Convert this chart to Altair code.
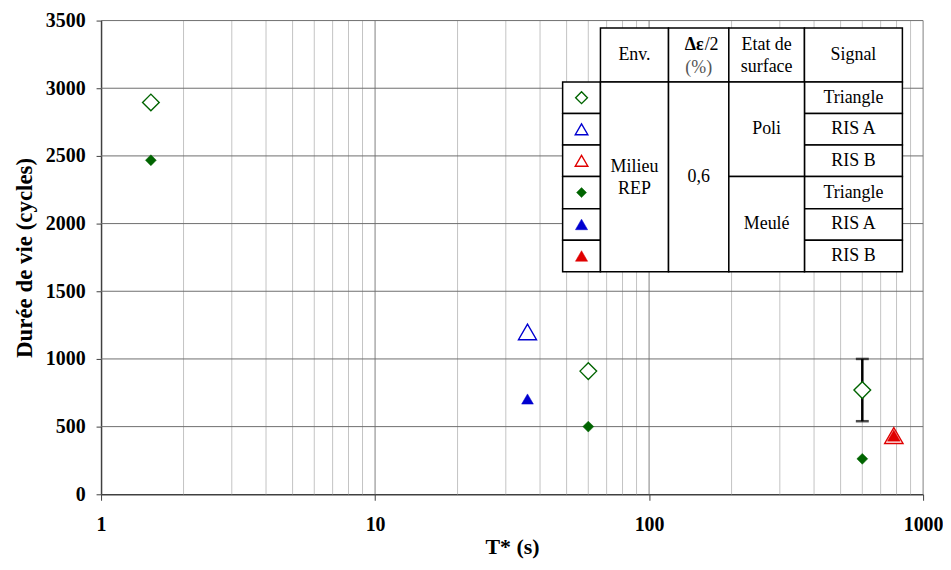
import altair as alt
import pandas as pd

# ---------------- data ----------------
poli_triangle_T = [1.52, 60, 600]
poli_triangle_N = [2895, 910, 770]
poli_risA_T = [36]
poli_risA_N = [1200]
poli_risB_T = [782]
poli_risB_N = [434]
meule_triangle_T = [1.52, 60, 600]
meule_triangle_N = [2468, 500, 262]
meule_risA_T = [36]
meule_risA_N = [704]
meule_risB_T = [782]
meule_risB_N = [434]

errbar_T = [600]
errbar_low = [540]
errbar_high = [1000]

x_tick_values = [1, 10, 100, 1000]
x_major_grid = [10, 100, 1000]
x_minor_grid = [2, 3, 4, 5, 6, 7, 8, 9, 20, 30, 40, 50, 60, 70, 80, 90,
                200, 300, 400, 500, 600, 700, 800, 900]
y_tick_values = [0, 500, 1000, 1500, 2000, 2500, 3000, 3500]

table_env = ["Milieu", "REP"]
table_amp = ["0,6"]
table_surface = ["Poli", "Meulé"]
table_signal = ["Triangle", "RIS A", "RIS B", "Triangle", "RIS A", "RIS B"]

# ---------------- layout / style ----------------
W, H = 826, 476
OX, OY = 101.5, 19.3          # plot-area origin in page pixels
GREEN, BLUE, RED = "#006400", "#0000D0", "#E00000"
SERIF = "Liberation Serif"

xs = alt.Scale(type="log", domain=[1, 1000], nice=False)
ys = alt.Scale(domain=[0, 3500], nice=False, zero=False)

x_axis = alt.Axis(values=x_tick_values, format="d", grid=False, tickSize=6,
                  tickColor="#404040", domainColor="#404040", domainWidth=1.5,
                  labelFont=SERIF, labelFontWeight="bold", labelFontSize=20,
                  labelColor="black", labelPadding=14, labelFlush=False,
                  labelOverlap=False, title="T* (s)", titleFont=SERIF,
                  titleFontWeight="bold", titleFontSize=22, titleColor="black",
                  titlePadding=3)
y_axis = alt.Axis(values=y_tick_values, format="d", grid=False, tickSize=5,
                  tickColor="#404040", domainColor="#404040", domainWidth=1.5,
                  labelFont=SERIF, labelFontWeight="bold", labelFontSize=20,
                  labelColor="black", labelPadding=11, labelFlush=False,
                  title="Durée de vie (cycles)", titleFont=SERIF,
                  titleFontWeight="bold", titleFontSize=23, titleColor="black",
                  titlePadding=9)

def X(field="T"):
    return alt.X(f"{field}:Q", scale=xs, axis=x_axis)

def Y(field="N"):
    return alt.Y(f"{field}:Q", scale=ys, axis=y_axis)

layers = []

# grid
layers.append(alt.Chart(pd.DataFrame({"T": x_minor_grid})).mark_rule(
    color="#c4c4c4", strokeWidth=1).encode(x=X()))
layers.append(alt.Chart(pd.DataFrame({"T": x_major_grid})).mark_rule(
    color="#808080", strokeWidth=1).encode(x=X()))
layers.append(alt.Chart(pd.DataFrame({"N": y_tick_values[1:]})).mark_rule(
    color="#6e6e6e", strokeWidth=1).encode(y=Y()))

# ---------------- legend table (pixel layout) ----------------
cx = [v - OX for v in [565.3, 603.3, 671.7, 732.3, 808.3, 906.7]]
ry = [v - OY for v in [26.7, 81, 112.7, 144.3, 176, 208.3, 240, 271.7]]
cells = []
for i in range(1, 5):
    cells.append((cx[i], cx[i + 1], ry[0], ry[1]))
for i in range(6):
    cells.append((cx[0], cx[1], ry[i + 1], ry[i + 2]))
    cells.append((cx[4], cx[5], ry[i + 1], ry[i + 2]))
cells.append((cx[1], cx[2], ry[1], ry[7]))
cells.append((cx[2], cx[3], ry[1], ry[7]))
cells.append((cx[3], cx[4], ry[1], ry[4]))
cells.append((cx[3], cx[4], ry[4], ry[7]))
cells_df = pd.DataFrame(cells, columns=["x0", "x1", "y0", "y1"])

def PX(f):
    return alt.X(f"{f}:Q", scale=None, axis=None)

def PY(f):
    return alt.Y(f"{f}:Q", scale=None, axis=None)

layers.append(alt.Chart(cells_df).mark_rect(
    fill="white", stroke="black", strokeWidth=1.5).encode(
    x=PX("x0"), x2="x1:Q", y=PY("y0"), y2="y1:Q"))

def mid(a, b):
    return (a + b) / 2

texts = [
    ("Env.", mid(cx[1], cx[2]), mid(ry[0], ry[1])),
    ("Etat de", mid(cx[3], cx[4]), 43.5 - OY),
    ("surface", mid(cx[3], cx[4]), 66 - OY),
    ("Signal", mid(cx[4], cx[5]), mid(ry[0], ry[1])),
    (table_env[0], mid(cx[1], cx[2]), 166 - OY),
    (table_env[1], mid(cx[1], cx[2]), 188.5 - OY),
    (table_amp[0], mid(cx[2], cx[3]), 176.5 - OY),
    (table_surface[0], mid(cx[3], cx[4]), 128.5 - OY),
    (table_surface[1], mid(cx[3], cx[4]), 224 - OY),
]
for i, s in enumerate(table_signal):
    texts.append((s, mid(cx[4], cx[5]), mid(ry[i + 1], ry[i + 2])))
texts_df = pd.DataFrame(texts, columns=["label", "px", "py"])
layers.append(alt.Chart(texts_df).mark_text(
    font=SERIF, fontSize=18, color="black", align="center", baseline="middle").encode(
    x=PX("px"), y=PY("py"), text="label:N"))

# header Δε/2 (%)
layers.append(alt.Chart(pd.DataFrame({"label": ["Δε"], "px": [707 - OX], "py": [43.5 - OY]})).mark_text(
    font=SERIF, fontSize=18, fontWeight="bold", color="black", align="right",
    baseline="middle").encode(x=PX("px"), y=PY("py"), text="label:N"))
layers.append(alt.Chart(pd.DataFrame({"label": ["/2"], "px": [708 - OX], "py": [43.5 - OY]})).mark_text(
    font=SERIF, fontSize=18, color="black", align="left",
    baseline="middle").encode(x=PX("px"), y=PY("py"), text="label:N"))
layers.append(alt.Chart(pd.DataFrame({"label": ["(%)"], "px": [mid(cx[2], cx[3])], "py": [66.5 - OY]})).mark_text(
    font=SERIF, fontSize=18, color="#555555", align="center",
    baseline="middle").encode(x=PX("px"), y=PY("py"), text="label:N"))

# ---------------- error bar ----------------
err_df = pd.DataFrame({"T": errbar_T, "lo": errbar_low, "hi": errbar_high})
layers.append(alt.Chart(err_df).mark_rule(color="black", strokeWidth=2.5).encode(
    x=X(), y=Y("lo"), y2="hi:Q"))
for f in ["lo", "hi"]:
    layers.append(alt.Chart(err_df).mark_tick(
        color="black", orient="horizontal", size=13, thickness=2.5).encode(
        x=X(), y=Y(f)))

# ---------------- data series + legend symbols ----------------
series = [
    (poli_triangle_T, poli_triangle_N, "diamond", False, GREEN, 280, 140),
    (poli_risA_T, poli_risA_N, "triangle-up", False, BLUE, 330, 160),
    (poli_risB_T, poli_risB_N, "triangle-up", False, RED, 340, 160),
    (meule_triangle_T, meule_triangle_N, "diamond", True, GREEN, 120, 100),
    (meule_risA_T, meule_risA_N, "triangle-up", True, BLUE, 140, 150),
    (meule_risB_T, meule_risB_N, "triangle-up", True, RED, 170, 150),
]
for k, (T, N, shape, filled, color, size, lsize) in enumerate(series):
    df = pd.DataFrame({"T": T, "N": N})
    if filled:
        mk = dict(shape=shape, filled=True, fill=color, stroke=color,
                  strokeWidth=0.5, size=size, opacity=1)
    else:
        mk = dict(shape=shape, filled=True, fill="white", stroke=color,
                  strokeWidth=1.4, size=size, opacity=1, fillOpacity=1)
    lmk = dict(mk, size=lsize)
    layers.append(alt.Chart(df).mark_point(**mk).encode(x=X(), y=Y()))
    leg = pd.DataFrame({"px": [mid(cx[0], cx[1])], "py": [mid(ry[k + 1], ry[k + 2])]})
    layers.append(alt.Chart(leg).mark_point(**lmk).encode(x=PX("px"), y=PY("py")))

chart = alt.layer(*layers).properties(
    width=W, height=H,
    autosize=alt.AutoSizeParams(type="none"),
    padding={"left": OX - 8, "top": OY - 8, "right": 20, "bottom": 65},
).configure_view(stroke=None)

chart.save("out.html", embed_options={"renderer": "svg", "actions": False})
